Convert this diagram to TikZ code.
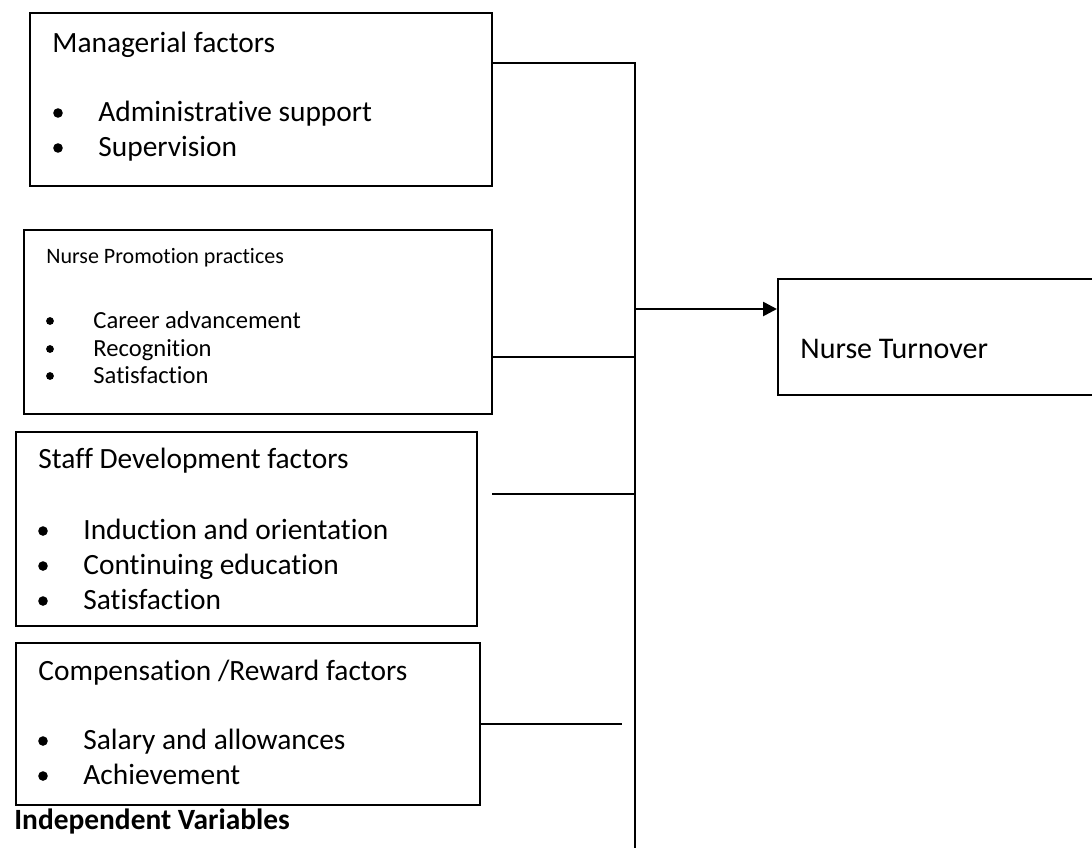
\documentclass[tikz,border=0pt]{standalone}
\usepackage{fontspec}
\setmainfont{Carlito}[Ligatures=NoCommon]
\usepackage{tikz}
\usetikzlibrary{positioning}
\usetikzlibrary{fit}
\usetikzlibrary{arrows.meta}
\tikzset{factor box/.style = {draw, line width=1pt, inner sep=0pt}}
\tikzset{link/.style = {line width=1.3pt}}

\begin{document}
\begin{tikzpicture}[x=0.5pt,y=-0.5pt,
    item/.style={anchor=base west,inner sep=0pt,font=\fontsize{14.7}{17}\selectfont},
    small item/.style={anchor=base west,inner sep=0pt,font=\fontsize{12.3}{14}\selectfont},
    small title/.style={anchor=base west,inner sep=0pt,font=\fontsize{11}{13}\selectfont},
    dot/.style={circle,fill,inner sep=0pt,minimum size=4.8pt}]
    \clip (0,0) rectangle (1092,848);
    % boxes
    \node[factor box, fit={(30,13) (492,186)}] (mgr) {};
    \node[factor box, fit={(24,230) (492,414)}] (promo) {};
    \node[factor box, fit={(16,432) (477,626)}] (staff) {};
    \node[factor box, fit={(16,643) (480,805)}] (comp) {};
    \node[factor box, fit={(778,279) (1110,395)}] (turn) {};
    % texts
    \node[item] (t1) at (52,52) {Managerial factors};
    \node[item] (i11) at (98,121) {Administrative support};
    \node[item] (i12) at (98,156) {Supervision};
    \node[small title] (t2) at (46,263) {Nurse Promotion practices};
    \node[small item] (i21) at (93,328) {Career advancement};
    \node[small item] (i22) at (93,356) {Recognition};
    \node[small item] (i23) at (93,383) {Satisfaction};
    \node[item] (t3) at (38,468) {Staff Development factors};
    \node[item] (i31) at (83,539) {Induction and orientation};
    \node[item] (i32) at (83,574) {Continuing education};
    \node[item] (i33) at (83,609) {Satisfaction};
    \node[item] (t4) at (38,680) {Compensation /Reward factors};
    \node[item] (i41) at (83,749) {Salary and allowances};
    \node[item] (i42) at (83,784) {Achievement};
    \node[item,font=\fontsize{14.7}{17}\selectfont\bfseries] (iv) at (14,829) {Independent Variables};
    \node[item,font=\fontsize{15}{17}\selectfont] (dv) at (800,358) {Nurse Turnover};
    % bullets
    \foreach \n in {i11,i12,i31,i32,i33,i41,i42}
        \node[dot] at ([xshift=-20pt,yshift=4pt]\n.base west) {};
    \foreach \n in {i21,i22,i23}
        \node[dot,minimum size=3.9pt] at ([xshift=-21.5pt,yshift=3.5pt]\n.base west) {};
    % connectors
    \coordinate (top) at (635,63);
    \coordinate (bot) at (635,848);
    \coordinate (j0) at (635,309);
    \coordinate (j2) at (635,357);
    \coordinate (s3) at (492,494);
    \coordinate (j3) at (635,494);
    \coordinate (e4) at (622,724);
    \draw[link] (mgr.east |- top) -- (top) -- (bot);
    \draw[link] (promo.east |- j2) -- (j2);
    \draw[link] (s3) -- (j3);
    \draw[link] (comp.east |- e4) -- (e4);
    \draw[link,-{Triangle[length=7pt,width=7pt]}] (j0) -- (turn.west |- j0);
\end{tikzpicture}
\end{document}
